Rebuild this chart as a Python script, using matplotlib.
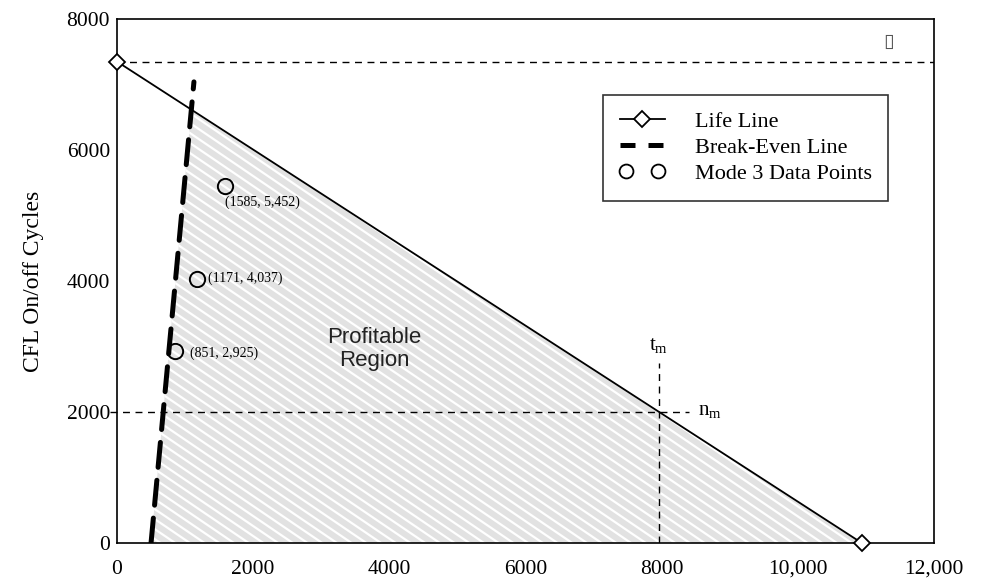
import numpy as np
import matplotlib
matplotlib.use("Agg")
import matplotlib.pyplot as plt
from matplotlib.patches import Polygon
from matplotlib.collections import LineCollection
from matplotlib.lines import Line2D
from matplotlib.legend_handler import HandlerLine2D

plt.rcParams['font.family'] = ['Liberation Serif', 'DejaVu Sans']
plt.rcParams['mathtext.fontset'] = 'custom'
plt.rcParams['mathtext.rm'] = 'Liberation Serif'
plt.rcParams['mathtext.it'] = 'Liberation Serif:italic'

# ---- data ----
life_x = [0, 10940]
life_y = [7350, 0]
be_x = [500, 1130]
be_y = [0, 7040]
pts_x = [851, 1171, 1585]
pts_y = [2925, 4037, 5452]
pts_labels = ["(851, 2,925)", "(1171, 4,037)", "(1585, 5,452)"]
life_ref_y = 7350
t_m = 7960
n_m = 2000
tm_top = 2750
nm_right = 8400
x_ticks = [0, 2000, 4000, 6000, 8000, 10000, 12000]
x_ticklabels = ["0", "2000", "4000", "6000", "8000", "10,000", "12,000"]
y_ticks = [0, 2000, 4000, 6000, 8000]
y_ticklabels = ["0", "2000", "4000", "6000", "8000"]

fig = plt.figure(figsize=(9.86, 5.85), dpi=100)
ax = fig.add_axes([117/986, 1-543/585, (934-117)/986, (543-19)/585])
ax.set_xlim(0, 12000)
ax.set_ylim(0, 8000)

# intersection of break-even line and life line
m_l = (life_y[1]-life_y[0])/(life_x[1]-life_x[0])
m_b = (be_y[1]-be_y[0])/(be_x[1]-be_x[0])
xi = (life_y[0] - be_y[0] + m_b*be_x[0]) / (m_b - m_l)
yi = life_y[0] + m_l*xi

poly = Polygon([[be_x[0], 0], [xi, yi], [life_x[1], 0]], closed=True,
               facecolor='#e2e2e2', edgecolor='none', zorder=1)
ax.add_patch(poly)

# hatch lines (white, descending to the right) clipped to the region
W, H = 817.0, 524.0
slope = 0.68
step = 10.0
segs = []
for c in np.arange(-slope*W - step, H + step, step):
    u0, u1 = 0.0, 1.0
    v0 = 1 - (c + slope*u0*W)/H
    v1 = 1 - (c + slope*u1*W)/H
    segs.append([(u0, v0), (u1, v1)])
lc = LineCollection(segs, colors='white', linewidths=1.6, transform=ax.transAxes, zorder=2)
ax.add_collection(lc)
lc.set_clip_path(poly)

# reference dashed lines
ax.plot([0, 12000], [life_ref_y, life_ref_y], color='black', lw=1.0,
        ls=(0, (5, 4)), zorder=3)
ax.plot([-100, nm_right], [n_m, n_m], color='black', lw=1.0,
        ls=(0, (5, 4)), zorder=3, clip_on=False)
ax.plot([t_m, t_m], [0, tm_top], color='black', lw=1.0,
        ls=(0, (5, 4)), zorder=3)

# life line
ax.plot(life_x, life_y, color='black', lw=1.3, marker='D', markersize=8,
        markerfacecolor='white', markeredgecolor='black', markeredgewidth=1.3,
        zorder=5, clip_on=False)
# break-even line
ax.plot(be_x, be_y, color='black', lw=3.6, ls=(0, (5, 2.6)),
        dash_capstyle='round', zorder=4)
# data points
ax.plot(pts_x, pts_y, ls='none', marker='o', markersize=11,
        markerfacecolor='none', markeredgecolor='black', markeredgewidth=1.4, zorder=6)

offsets = [(11, -1), (8, 0), (0, -12)]
for x, y, lab, off in zip(pts_x, pts_y, pts_labels, offsets):
    ax.annotate(lab, (x, y), xytext=off, textcoords='offset points',
                ha='left', va='center', fontsize=10, zorder=7)

ax.text(3780, 2960, "Profitable\nRegion", family='Liberation Sans', fontsize=16,
        color='#222222', ha='center', va='center', linespacing=1.15, zorder=7)

ax.text(t_m, tm_top + 270, r"t$_{\mathrm{m}}$", fontsize=15, ha='center', va='center')
ax.text(nm_right + 130, n_m + 30, r"n$_{\mathrm{m}}$", fontsize=15, ha='left', va='center')

ax.text(11340, 7650, "\u25AF", family='DejaVu Sans', fontsize=14, color='#555555',
        ha='center', va='center')

ax.set_xticks(x_ticks)
ax.set_xticklabels(x_ticklabels)
ax.set_yticks(y_ticks)
ax.set_yticklabels(y_ticklabels)
ax.tick_params(axis='both', length=0, labelsize=15.5)
ax.tick_params(axis='x', pad=12)
ax.tick_params(axis='y', pad=5)
ax.set_ylabel("CFL On/off Cycles", fontsize=17, labelpad=16)

for s in ax.spines.values():
    s.set_linewidth(1.2)

# legend
h_life = Line2D([], [], color='black', lw=1.3, marker='D', markersize=8,
                markerfacecolor='white', markeredgewidth=1.3)
h_be = Line2D([], [], color='black', lw=3.6, ls=(0, (3, 2.6)))
h_pts = Line2D([], [], ls='none', marker='o', markersize=10,
               markerfacecolor='none', markeredgecolor='black', markeredgewidth=1.3)
leg = fig.legend([h_life, h_be, h_pts],
                 ["Life Line", "Break-Even Line", "Mode 3 Data Points"],
                 handler_map={h_life: HandlerLine2D(numpoints=1),
                              h_pts: HandlerLine2D(numpoints=2)},
                 loc='upper left', bbox_to_anchor=(603/986, 1-95/585),
                 frameon=True, fancybox=False, fontsize=16,
                 handlelength=2.03, handletextpad=1.35, labelspacing=0.24,
                 borderpad=0.75, borderaxespad=0)
leg.get_frame().set_edgecolor('black')
leg.get_frame().set_linewidth(1.2)

fig.savefig("out.png", dpi=100)
